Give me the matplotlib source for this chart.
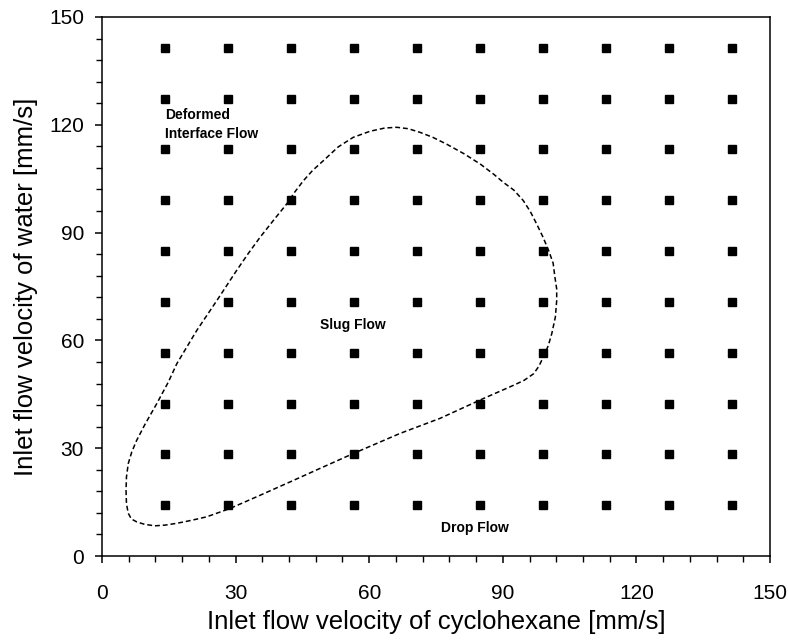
import matplotlib
matplotlib.use("Agg")
import matplotlib.pyplot as plt
from matplotlib.ticker import MultipleLocator

plt.rcParams["font.family"] = ["Liberation Sans", "DejaVu Sans"]

# measured operating points (same velocities for both phases)
grid_values = [14.14, 28.28, 42.43, 56.57, 70.71, 84.85, 98.99, 113.14, 127.28, 141.42]

# boundary of the slug flow region, traced around the loop
boundary_x = [5.4, 5.5, 5.9, 6.6, 7.8, 9.6, 11.9, 14.2, 16.8, 20.0, 23.5, 26.0,
              28.7, 35.5, 42.2, 49.0, 56.4, 66.9, 75.9, 85.6, 92.4, 94.8, 96.9,
              98.1, 99.1, 100.2, 101.0, 101.8, 102.1, 102.1, 101.7, 101.3, 100.3,
              99.0, 97.6, 96.2, 94.6, 92.5, 90.1, 88.0, 84.9, 81.2, 77.4, 74.3,
              71.4, 68.8, 66.2, 63.5, 60.2, 56.4, 53.0, 49.7, 47.3, 45.2, 43.3,
              41.5, 38.5, 35.5, 32.8, 30.2, 25.8, 21.3, 16.8, 14.9, 12.3, 9.6,
              7.8, 6.7, 5.9, 5.5, 5.4]
boundary_y = [18.3, 14.5, 11.9, 10.3, 9.5, 8.8, 8.4, 8.6, 9.1, 9.9, 10.9, 12.0,
              13.2, 16.9, 20.6, 24.4, 28.5, 34.1, 38.3, 43.8, 47.5, 48.9, 50.7,
              52.8, 55.4, 58.5, 61.9, 66.5, 71.1, 74.3, 77.6, 81.5, 85.0,
              88.8, 92.4, 95.8, 98.9, 101.8, 104.0, 106.2, 109.1, 112.0, 114.6, 116.5,
              117.9, 118.9, 119.3, 119.1, 118.2, 116.5, 113.8, 110.0, 107.3, 104.4, 101.3,
              98.0, 93.4, 88.7, 84.1, 79.4, 71.1, 62.8, 53.5, 48.4, 42.4, 36.5,
              32.2, 29.0, 25.7, 22.0, 18.3]


def main():
    fig, ax = plt.subplots(figsize=(7.88, 6.43), dpi=100)
    fig.subplots_adjust(left=0.1294, right=0.9772, bottom=0.1353, top=0.9736)

    plot_data(ax)
    set_properties(ax)
    fig.savefig("out.png", dpi=100)


def plot_data(ax):
    for yv in grid_values:
        ax.plot(grid_values, [yv] * len(grid_values), linestyle="none",
                marker="s", markersize=5.6, color="black")

    ax.plot(boundary_x, boundary_y, color="black", linewidth=1.1,
            linestyle=(0, (3.2, 1.9)))

    ax.text(14.1, 120, "Deformed\nInterface Flow", fontsize=10, fontweight="bold",
            ha="left", va="center", linespacing=1.45)
    ax.text(56.4, 64.4, "Slug Flow", fontsize=10, fontweight="bold",
            ha="center", va="center")
    ax.text(83.8, 7.8, "Drop Flow", fontsize=10, fontweight="bold",
            ha="center", va="center")


def set_properties(ax):
    ax.set_xlim(0, 150)
    ax.set_ylim(0, 150)
    ax.xaxis.set_major_locator(MultipleLocator(30))
    ax.yaxis.set_major_locator(MultipleLocator(30))
    ax.xaxis.set_minor_locator(MultipleLocator(6))
    ax.yaxis.set_minor_locator(MultipleLocator(6))
    ax.tick_params(which="major", direction="out", length=5, width=1.1, labelsize=15)
    ax.tick_params(which="minor", direction="out", length=4, width=1.0)
    ax.tick_params(axis="x", which="major", pad=15)
    ax.tick_params(axis="y", which="major", pad=8)
    ax.tick_params(top=False, right=False, which="both")
    for spine in ax.spines.values():
        spine.set_linewidth(1.1)

    ax.set_xlabel("Inlet flow velocity of cyclohexane [mm/s]", fontsize=18.5, labelpad=5)
    ax.set_ylabel("Inlet flow velocity of water [mm/s]", fontsize=18.5, labelpad=8)


if __name__ == "__main__":
    main()
